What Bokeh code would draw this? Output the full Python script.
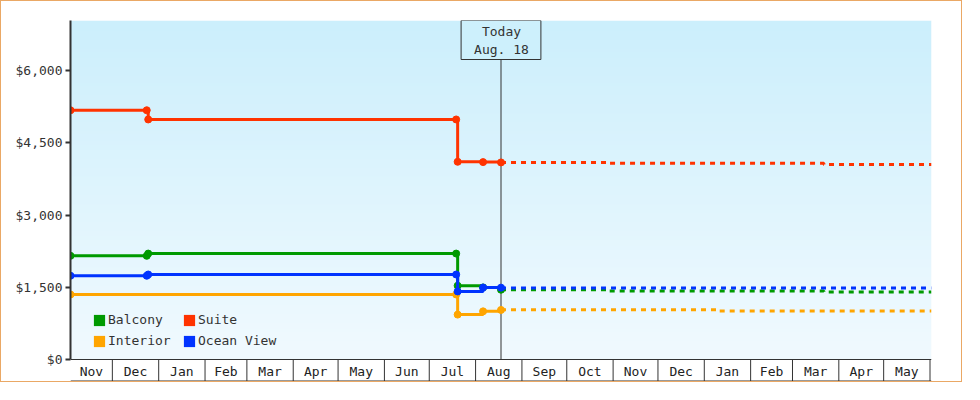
import numpy as np
import pandas as pd
from bokeh.plotting import figure
from bokeh.models import (Range1d, FixedTicker, NumeralTickFormatter, Label,
                          Legend, LegendItem, ColumnDataSource)
from bokeh.core.properties import value
from bokeh.embed import file_html
from bokeh.resources import INLINE

# ---------------- data ----------------
TODAY = "2018-08-18"
TODAY_TEXT = "Today\nAug. 18"

suite_dates = ["2017-11-03", "2017-12-24", "2017-12-25", "2018-07-19", "2018-07-20", "2018-08-06", "2018-08-18"]
suite_prices = [5176, 5176, 4985, 4985, 4106, 4099, 4093]

balcony_dates = ["2017-11-03", "2017-12-24", "2017-12-25", "2018-07-19", "2018-07-20", "2018-08-06", "2018-08-18"]
balcony_prices = [2153, 2153, 2200, 2200, 1532, 1497, 1449]

ocean_dates = ["2017-11-03", "2017-12-24", "2017-12-25", "2018-07-19", "2018-07-20", "2018-08-06", "2018-08-18"]
ocean_prices = [1739, 1739, 1765, 1765, 1414, 1495, 1492]

interior_dates = ["2017-11-03", "2018-07-19", "2018-07-20", "2018-08-06", "2018-08-18"]
interior_prices = [1350, 1350, 932, 1000, 1029]

forecast_dates = ["2018-08-18", "2018-10-29", "2019-01-09", "2019-03-22", "2019-06-02"]
suite_forecast = [4093, 4073, 4073, 4052, 4052]
balcony_forecast = [1449, 1422, 1422, 1402, 1402]
ocean_forecast = [1486, 1486, 1486, 1486, 1486]
interior_forecast = [1035, 1035, 1008, 1008, 1008]

month_labels = ["Nov", "Dec", "Jan", "Feb", "Mar", "Apr", "May", "Jun", "Jul", "Aug",
                "Sep", "Oct", "Nov", "Dec", "Jan", "Feb", "Mar", "Apr", "May"]
y_ticks = [0, 1500, 3000, 4500, 6000]

legend_labels = ["Balcony", "Suite", "Interior", "Ocean View"]

# ---------------- style ----------------
FONT = "DejaVu Sans Mono"
C_SUITE = "#ff3300"
C_BALCONY = "#009a00"
C_OCEAN = "#0033ff"
C_INTERIOR = "#ffa500"
DARK = "#333333"
legend_colors = [C_BALCONY, C_SUITE, C_INTERIOR, C_OCEAN]

today = pd.Timestamp(TODAY)
x_start = today - pd.Timedelta(days=288)
x_end = today + pd.Timedelta(days=288)

def ms(t):
    return pd.Timestamp(t).value / 1e6

Y_TOP = 7040
ZERO_PX = 339          # px from y=0 to top of frame
FRAME_H = 361          # frame incl. month row
ppd = ZERO_PX / Y_TOP
y_bottom = -(FRAME_H - ZERO_PX) / ppd

p = figure(width=962, height=382, x_range=Range1d(ms(x_start), ms(x_end)),
           y_range=Range1d(y_bottom, Y_TOP), x_axis_location=None,
           output_backend="svg", toolbar_location=None,
           min_border_left=69, min_border_right=32, min_border_top=19, min_border_bottom=2)
p.styles = {"border": "1px solid #eaa865"}
p.grid.visible = False
p.outline_line_color = None
p.background_fill_color = "white"
p.border_fill_color = "white"

# gradient background (plot area above $0)
n = 340
t = np.linspace(0, 1, n)[:, None]
bot = np.array([241, 250, 255])
top = np.array([204, 239, 252])
cols = (bot + (top - bot) * t).astype(np.uint8)
img = np.empty((n, 1), dtype=np.uint32)
view = img.view(dtype=np.uint8).reshape((n, 1, 4))
view[:, 0, 0] = cols[:, 0]
view[:, 0, 1] = cols[:, 1]
view[:, 0, 2] = cols[:, 2]
view[:, 0, 3] = 255
p.image_rgba(image=[img], x=ms(x_start), y=0, dw=ms(x_end) - ms(x_start), dh=Y_TOP)

# y axis
yax = p.yaxis[0]
yax.ticker = FixedTicker(ticks=y_ticks)
yax.formatter = NumeralTickFormatter(format="$0,0")
yax.bounds = (0, Y_TOP)
yax.axis_line_color = DARK
yax.axis_line_width = 2
yax.major_tick_line_color = DARK
yax.major_tick_line_width = 2
yax.major_tick_out = 5
yax.major_tick_in = 0
yax.minor_tick_line_color = None
yax.major_label_standoff = 3
yax.major_label_text_font = FONT
yax.major_label_text_font_size = "13px"
yax.major_label_text_color = DARK

# month boxes
bounds = list(pd.date_range(x_start.to_period("M").to_timestamp() + pd.offsets.MonthBegin(1),
                            x_end, freq="MS"))
starts = [x_start] + bounds
ends = bounds + [x_end]
centers = [ms(s) + (ms(e) - ms(s)) / 2 for s, e in zip(starts, ends)]
sep_x = [ms(b) for b in bounds]
p.segment(x0=sep_x, y0=[0] * len(sep_x), x1=sep_x, y1=[y_bottom] * len(sep_x),
          line_color=DARK, line_width=1)
p.segment(x0=[ms(x_start)], y0=[0], x1=[ms(x_end)], y1=[0], line_color=DARK, line_width=1)
yb = -(FRAME_H - ZERO_PX - 0.5) / ppd
p.segment(x0=[ms(x_start)], y0=[yb], x1=[ms(x_end)], y1=[yb], line_color=DARK, line_width=1)
p.text(x=centers, y=[-11.5 / ppd] * len(centers), text=month_labels[:len(centers)],
       text_font=value(FONT), text_font_size="13px", text_align="center",
       text_baseline="middle", text_color="#222222")

# today line
p.segment(x0=[ms(today)], y0=[0], x1=[ms(today)], y1=[Y_TOP], line_color=DARK, line_width=1)

# series
series = [
    (interior_dates, interior_prices, interior_forecast, C_INTERIOR),
    (balcony_dates, balcony_prices, balcony_forecast, C_BALCONY),
    (suite_dates, suite_prices, suite_forecast, C_SUITE),
    (ocean_dates, ocean_prices, ocean_forecast, C_OCEAN),
]
fx = [ms(d) for d in forecast_dates]
for dates, prices, fc, color in series:
    xs = [ms(d) for d in dates]
    p.step(x=fx, y=fc, mode="after", line_color=color, line_width=3, line_dash="5 5")
    p.step(x=xs, y=prices, mode="after", line_color=color, line_width=3)
    p.scatter(x=xs, y=prices, size=7, fill_color=color, line_color=color)

# today label
lab = Label(x=ms(today), y=Y_TOP, x_units="data", y_units="data", text=TODAY_TEXT,
            anchor="top_center", text_align="center", text_font=FONT,
            text_font_size="13px", text_color=DARK, text_line_height=1.2,
            padding=(13, 12, 3, 3), border_line_color=DARK, border_line_width=1,
            background_fill_color="#cdf0fc")
p.add_layout(lab)

# legend (swatch-only renderers, no data drawn)
items = []
for name, color in zip(legend_labels, legend_colors):
    src = ColumnDataSource(dict(l=[np.nan], r=[np.nan], t=[np.nan], b=[np.nan]))
    r = p.quad(left="l", right="r", top="t", bottom="b", source=src,
               fill_color=color, line_color=None)
    items.append(LegendItem(label=name, renderers=[r]))
legend = Legend(items=items, location=(22, 33), orientation="horizontal", ncols=2,
                padding=0, margin=0, spacing=6, glyph_width=14, glyph_height=14,
                label_standoff=2, label_width=68, label_height=14,
                label_text_font=FONT, label_text_font_size="13px", label_text_color=DARK,
                background_fill_alpha=0, border_line_color=None)
p.add_layout(legend)

open("out.html", "w").write(file_html(p, INLINE))
